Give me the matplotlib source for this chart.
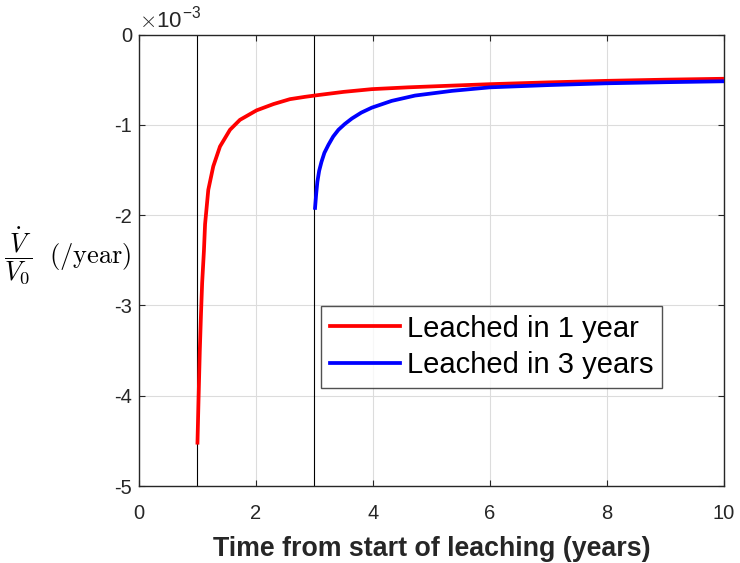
import numpy as np
import matplotlib.pyplot as plt

plt.rcParams['font.family'] = ['Liberation Sans', 'DejaVu Sans']
plt.rcParams['mathtext.fontset'] = 'cm'

# values (units of 1e-3 /year)
t_1yr = [1.0, 1.02, 1.04, 1.06, 1.08, 1.11, 1.13, 1.185, 1.27, 1.385, 1.556, 1.726,
         2.01, 2.3, 2.58, 2.84, 3.07, 3.5, 3.98, 4.6, 5.35, 6.0, 7.0, 8.0, 9.0, 10.0]
v_1yr = [-4.52, -4.0, -3.5, -3.1, -2.75, -2.4, -2.1, -1.72, -1.46, -1.24, -1.055, -0.945,
         -0.84, -0.77, -0.716, -0.69, -0.67, -0.635, -0.605, -0.585, -0.566, -0.55, -0.53, -0.513, -0.50, -0.49]
t_3yr = [3.01, 3.03, 3.05, 3.08, 3.12, 3.17, 3.24, 3.32, 3.41, 3.52, 3.64, 3.8, 3.98, 4.32, 4.72,
         5.35, 6.0, 7.0, 8.0, 9.0, 10.0]
v_3yr = [-1.92, -1.76, -1.63, -1.51, -1.41, -1.31, -1.22, -1.13, -1.055, -0.99, -0.93, -0.865,
         -0.81, -0.735, -0.676, -0.624, -0.585, -0.56, -0.54, -0.528, -0.518]
start_times = [1, 3]

fig = plt.figure(figsize=(7.4, 5.63), dpi=100)
ax = fig.add_axes([0.1878, 0.1367, 0.7905, 0.802])

ax.plot(t_1yr, np.array(v_1yr) * 1e-3, color='red', lw=2.7, label='Leached in 1 year', zorder=3)
ax.plot(t_3yr, np.array(v_3yr) * 1e-3, color='blue', lw=2.7, label='Leached in 3 years', zorder=3)
for ts in start_times:
    ax.axvline(ts, color='black', lw=0.8, zorder=2)

ax.set_xlim(0, 10)
ax.set_ylim(-5e-3, 0)
ax.set_xticks(np.arange(0, 11, 2))
ax.set_yticks(np.arange(-5, 1) * 1e-3)
ax.set_yticklabels(['-5', '-4', '-3', '-2', '-1', '0'])
ax.set_xticklabels(['0', '2', '4', '6', '8', '10'])
ax.grid(True, color='#dcdcdc', lw=0.8)
ax.set_axisbelow(True)
ax.tick_params(direction='in', top=True, right=True, labelsize=14.5, colors='#262626', length=4)
ax.tick_params(axis='x', pad=13)
ax.tick_params(axis='y', pad=5)
for s in ax.spines.values():
    s.set_color('#262626')
    s.set_linewidth(1.0)

ax.set_xlabel('Time from start of leaching (years)', fontsize=19.3, fontweight='bold',
              color='#262626', labelpad=9)
fig.text(0.006, 0.545, r'$\dfrac{\dot{V}}{V_0}\ \ \mathrm{(/year)}$', fontsize=19, va='center', ha='left')
ax.text(0.0, 1.002, r'$\times$10$^{\mathregular{-3}}$', transform=ax.transAxes, fontsize=16,
        color='#262626', ha='left', va='bottom')

leg = ax.legend(loc='upper left', bbox_to_anchor=(0.311, 0.399), fontsize=21, frameon=True,
                fancybox=False, edgecolor='#262626', handlelength=2.4, handletextpad=0.25,
                borderpad=0.3, labelspacing=0.28, borderaxespad=0)
leg.get_frame().set_linewidth(1.0)

fig.savefig('out.png', dpi=100)
